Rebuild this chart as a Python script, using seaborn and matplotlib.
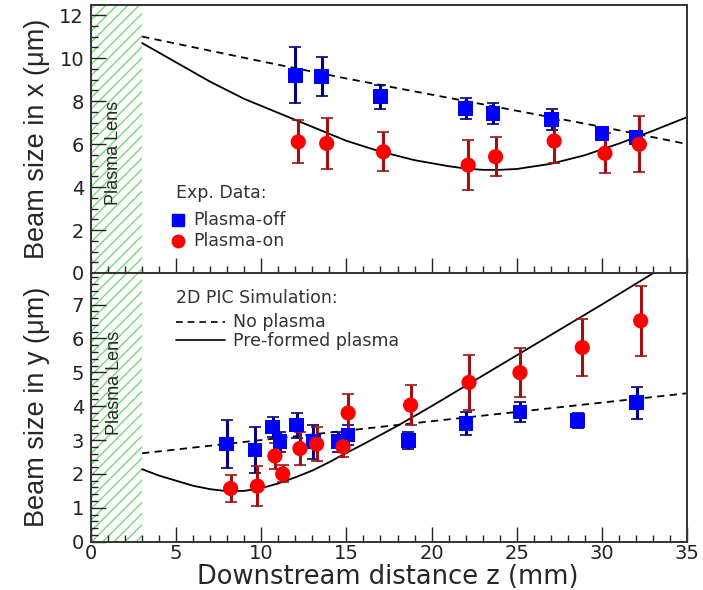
import matplotlib
matplotlib.use("Agg")
import matplotlib.pyplot as plt
import seaborn as sns
import numpy as np
import pandas as pd
from matplotlib.ticker import MultipleLocator

# ---------------- data ----------------
# Top panel (beam size in x)
x_off_z = [12.0, 13.55, 17.0, 22.0, 23.6, 27.05, 30.0, 32.0]
x_off_s = [9.2, 9.15, 8.2, 7.65, 7.43, 7.15, 6.5, 6.3]
x_off_e = [1.3, 0.9, 0.55, 0.5, 0.5, 0.5, 0.28, 0.2]

x_on_z = [12.17, 13.84, 17.17, 22.15, 23.76, 27.2, 30.18, 32.2]
x_on_s = [6.1, 6.03, 5.64, 5.02, 5.41, 6.14, 5.57, 5.99]
x_on_e = [1.0, 1.2, 0.9, 1.15, 0.9, 1.0, 0.93, 1.3]

x_noplasma_z = [3, 10, 15, 20, 25, 30, 35]
x_noplasma_s = [11.0, 9.85, 9.05, 8.3, 7.55, 6.8, 6.0]

x_preformed_z = [3, 5, 7, 9, 11, 13, 15, 17, 19, 21, 22, 23, 24, 25, 27, 29, 31, 33, 35]
x_preformed_s = [10.7, 9.8, 8.9, 8.1, 7.45, 6.8, 6.15, 5.65, 5.25, 4.97, 4.86, 4.8,
                 4.8, 4.84, 5.08, 5.48, 6.02, 6.62, 7.25]

# Bottom panel (beam size in y)
y_off_z = [7.97, 9.63, 10.67, 11.1, 12.08, 13.05, 14.5, 15.1, 18.63, 22.02, 25.19, 28.58, 32.04]
y_off_s = [2.88, 2.7, 3.39, 2.95, 3.44, 2.95, 2.95, 3.15, 2.98, 3.49, 3.83, 3.57, 4.1]
y_off_e = [0.7, 0.68, 0.3, 0.3, 0.37, 0.5, 0.3, 0.3, 0.25, 0.35, 0.3, 0.22, 0.48]

y_on_z = [8.2, 9.77, 10.8, 11.26, 12.27, 13.25, 14.8, 15.1, 18.77, 22.2, 25.19, 28.85, 32.28]
y_on_s = [1.57, 1.64, 2.53, 2.0, 2.75, 2.88, 2.8, 3.8, 4.03, 4.7, 4.99, 5.73, 6.52]
y_on_e = [0.4, 0.6, 0.37, 0.25, 0.5, 0.5, 0.3, 0.55, 0.6, 0.8, 0.73, 0.85, 1.03]

y_noplasma_z = [3, 19, 35]
y_noplasma_s = [2.61, 3.5, 4.38]

y_preformed_z = [3, 4, 5, 6, 7, 8, 9, 10, 11, 12, 13, 14, 15, 16, 17, 18, 20, 25, 30, 33, 35]
y_preformed_s = [2.14, 1.95, 1.8, 1.65, 1.55, 1.49, 1.5, 1.58, 1.72, 1.9, 2.1, 2.35,
                 2.62, 2.88, 3.15, 3.42, 4.0, 5.5, 7.0, 7.92, 8.5]

x_ticks = [0, 5, 10, 15, 20, 25, 30, 35]
top_yticks = [0, 2, 4, 6, 8, 10, 12]
bot_yticks = [0, 1, 2, 3, 4, 5, 6, 7]

# ---------------- style ----------------
sns.set_style("ticks")
plt.rcParams['font.family'] = ['Liberation Sans', 'DejaVu Sans']
plt.rcParams['hatch.linewidth'] = 1.0

BLUE = "#0000ff"
BLUE_E = "#00007a"
RED = "#ff0000"
RED_E = "#a01010"
HATCH_C = "#77d877"
WIDE = ["DejaVu Sans"]
TFS = 14

fig = plt.figure(figsize=(7.03, 5.90), dpi=100)
L, R = 91 / 703, 687 / 703
ax1 = fig.add_axes([L, 1 - 273 / 590, R - L, (273 - 5) / 590])
ax2 = fig.add_axes([L, 1 - 541.7 / 590, R - L, (541.7 - 273) / 590])


def draw_panel(ax, off_z, off_s, off_e, on_z, on_s, on_e, np_z, np_s, pf_z, pf_s):
    ax.axvspan(0, 3, facecolor="none", edgecolor=HATCH_C, hatch="///", linewidth=0, zorder=0)
    sns.lineplot(x=np_z, y=np_s, ax=ax, color="black", linestyle=(0, (4, 3)), lw=1.3, zorder=2)
    sns.lineplot(x=pf_z, y=pf_s, ax=ax, color="black", linestyle="-", lw=1.3, zorder=2)
    ax.errorbar(off_z, off_s, yerr=off_e, fmt="none", ecolor=BLUE_E, elinewidth=2.2,
                capsize=4, capthick=1.2, zorder=3)
    ax.errorbar(on_z, on_s, yerr=on_e, fmt="none", ecolor=RED_E, elinewidth=2.2,
                capsize=4, capthick=1.2, zorder=3)
    sns.scatterplot(x=off_z, y=off_s, ax=ax, marker="s", color=BLUE, s=110,
                    edgecolor="none", zorder=4)
    sns.scatterplot(x=on_z, y=on_s, ax=ax, marker="o", color=RED, s=120,
                    edgecolor="none", zorder=4)
    ax.set_xlim(0, 35)
    ax.set_xticks(x_ticks)
    ax.xaxis.set_minor_locator(MultipleLocator(1))
    ax.tick_params(axis="both", which="both", direction="in", top=False, right=False,
                   labelsize=TFS, width=1.0, colors="#222222")
    ax.tick_params(axis="x", which="both", pad=2)
    ax.tick_params(axis="y", which="both", pad=5)
    ax.tick_params(axis="x", which="major", length=11)
    ax.tick_params(axis="x", which="minor", length=5)
    ax.tick_params(axis="y", which="major", length=11)
    ax.tick_params(axis="y", which="minor", length=5)
    for sp in ax.spines.values():
        sp.set_linewidth(1.4)
        sp.set_color("#333333")


draw_panel(ax1, x_off_z, x_off_s, x_off_e, x_on_z, x_on_s, x_on_e,
           x_noplasma_z, x_noplasma_s, x_preformed_z, x_preformed_s)
draw_panel(ax2, y_off_z, y_off_s, y_off_e, y_on_z, y_on_s, y_on_e,
           y_noplasma_z, y_noplasma_s, y_preformed_z, y_preformed_s)

ax1.set_ylim(0, 12.47)
ax1.set_yticks(top_yticks)
ax1.set_yticklabels([str(v) for v in top_yticks], family=WIDE, fontsize=TFS)
ax1.yaxis.set_minor_locator(MultipleLocator(0.5))
ax1.tick_params(axis="x", labelbottom=False)
ax1.set_xlabel("")
ax1.set_ylabel("Beam size in x (μm)", fontsize=19.5)
ax1.yaxis.set_label_coords(-0.068, 0.5)

ax2.set_ylim(0, 7.93)
ax2.set_yticks(bot_yticks)
ax2.set_yticklabels([str(v) for v in bot_yticks], family=WIDE, fontsize=TFS)
ax2.set_xticklabels([str(v) for v in x_ticks], family=WIDE, fontsize=TFS)
ax2.yaxis.set_minor_locator(MultipleLocator(0.2))
ax2.set_ylabel("Beam size in y (μm)", fontsize=19.5)
ax2.yaxis.set_label_coords(-0.068, 0.5)
ax2.set_xlabel("Downstream distance z (mm)", fontsize=18.5, family=WIDE)
inv = ax2.transAxes.inverted()
lc = inv.transform((388, 590 - 589.5))
ax2.xaxis.set_label_coords(lc[0], lc[1])
ax2.xaxis.label.set_va("bottom")

# Plasma lens labels
ax1.text(1.3, 5.6, "Plasma Lens", rotation=90, ha="center", va="center",
         fontsize=13, family=["Liberation Sans Narrow", "Liberation Sans"])
ax2.text(1.4, 4.68, "Plasma Lens", rotation=90, ha="center", va="center",
         fontsize=13, family=["Liberation Sans Narrow", "Liberation Sans"])


def px_to_ax(ax, px, py):
    return ax.transAxes.inverted().transform((px, 590 - py))


TXT_C = "#333333"
LFS = 12.5
lx, ly = px_to_ax(ax1, 176, 193)
ax1.text(lx, ly, "Exp. Data:", transform=ax1.transAxes, fontsize=LFS, va="center",
         color=TXT_C, family=WIDE)
mx, my = px_to_ax(ax1, 178, 220)
ax1.plot([mx], [my], marker="s", color=BLUE, ms=9, transform=ax1.transAxes, ls="none")
tx, _ = px_to_ax(ax1, 193, 220)
ax1.text(tx, my, "Plasma-off", transform=ax1.transAxes, fontsize=LFS, va="center",
         color=TXT_C, family=WIDE)
mx, my = px_to_ax(ax1, 178, 241)
ax1.plot([mx], [my], marker="o", color=RED, ms=9, transform=ax1.transAxes, ls="none")
ax1.text(tx, my, "Plasma-on", transform=ax1.transAxes, fontsize=LFS, va="center",
         color=TXT_C, family=WIDE)

lx, ly = px_to_ax(ax2, 176, 298)
ax2.text(lx, ly, "2D PIC Simulation:", transform=ax2.transAxes, fontsize=LFS, va="center",
         color=TXT_C, family=WIDE)
x0, y1 = px_to_ax(ax2, 176, 322)
x1, _ = px_to_ax(ax2, 225, 322)
ax2.plot([x0, x1], [y1, y1], color="black", ls=(0, (4, 3)), lw=1.2, transform=ax2.transAxes)
tx, _ = px_to_ax(ax2, 233, 322)
ax2.text(tx, y1, "No plasma", transform=ax2.transAxes, fontsize=LFS, va="center",
         color=TXT_C, family=WIDE)
_, y2 = px_to_ax(ax2, 176, 340.5)
ax2.plot([x0, x1], [y2, y2], color="black", ls="-", lw=1.2, transform=ax2.transAxes)
ax2.text(tx, y2, "Pre-formed plasma", transform=ax2.transAxes, fontsize=LFS, va="center",
         color=TXT_C, family=WIDE)

fig.savefig("out.png", dpi=100)
